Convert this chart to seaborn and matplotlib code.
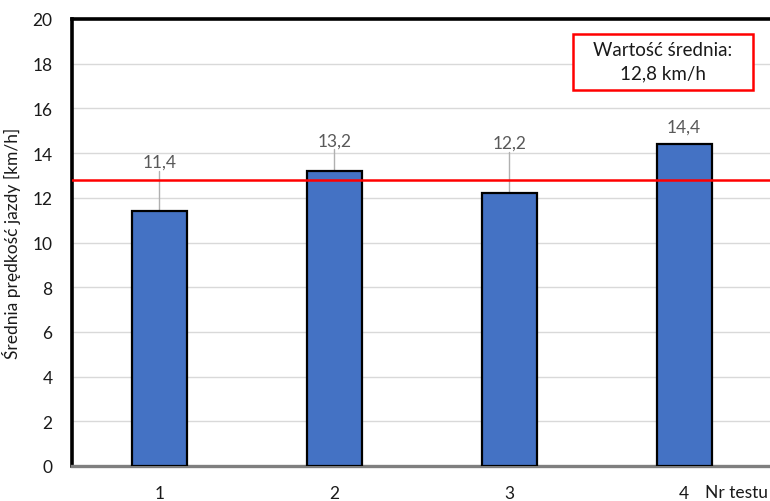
import matplotlib
matplotlib.use("Agg")
import matplotlib.pyplot as plt
import seaborn as sns
import pandas as pd
from matplotlib.patches import Rectangle

# Test numbers and average riding speed for each test
tests = ["1", "2", "3", "4"]
speeds = [11.4, 13.2, 12.2, 14.4]
mean_speed = 12.8
y_ticks = [0, 2, 4, 6, 8, 10, 12, 14, 16, 18, 20]

# Vertical position of each value label (data units) for the leader lines
label_y = [13.6, 14.55, 14.45, 15.2]

sns.set_theme(style="white")
plt.rcParams["font.family"] = ["Lato", "DejaVu Sans"]

df = pd.DataFrame({"test": tests, "speed": speeds})

fig = plt.figure(figsize=(7.7, 5.02), dpi=100)
ax = fig.add_axes([72 / 770, 1 - 467 / 502, 699.5 / 770, 447 / 502])

sns.barplot(data=df, x="test", y="speed", color="#4472C4", saturation=1,
            width=0.314, edgecolor="black", linewidth=1.6, ax=ax, zorder=3)

ax.set_xlim(-0.5, 3.5)
ax.set_ylim(0, 20)
ax.set_yticks(y_ticks)
ax.set_yticklabels([str(t) for t in y_ticks], fontsize=12.5, color="#1a1a1a")
ax.tick_params(axis="x", labelsize=12.5, colors="#1a1a1a", pad=14, length=0)
ax.tick_params(axis="y", pad=14, length=0)
ax.yaxis.grid(True, color="#d9d9d9", linewidth=1.0, zorder=0)
ax.set_axisbelow(True)

ax.set_xlabel("")
ax.set_ylabel("Średnia prędkość jazdy [km/h]", fontsize=12.5, color="#1a1a1a", labelpad=8)

for side in ["left", "top"]:
    ax.spines[side].set_visible(True)
    ax.spines[side].set_color("black")
    ax.spines[side].set_linewidth(2.6)
ax.spines["right"].set_visible(False)
ax.spines["bottom"].set_color("#7f7f7f")
ax.spines["bottom"].set_linewidth(2.4)

# Mean line
ax.axhline(mean_speed, color="#ff0000", linewidth=1.8, zorder=4)

# Value labels with thin leader lines
for i, (v, ly) in enumerate(zip(speeds, label_y)):
    txt = f"{v:.1f}".replace(".", ",")
    ax.text(i, ly, txt, ha="center", va="center", fontsize=12.5, color="#595959", zorder=6)
    if ly - v > 0.9:
        ax.plot([i, i], [v, ly - 0.38], color="#b0b0b0", linewidth=1.0, zorder=2)

# Axis title placed after the last category, level with the tick labels
fig.text(705 / 770, 1 - 493 / 502, "Nr testu", ha="left", va="center",
         fontsize=12.5, color="#1a1a1a")

# Mean value box
fig.patches.append(Rectangle((573 / 770, 1 - 91 / 502), 180 / 770, 56 / 502,
                             transform=fig.transFigure, fill=True, facecolor="white",
                             edgecolor="#ff0000", linewidth=1.8, zorder=10))
fig.text(663 / 770, 1 - 50 / 502, "Wartość średnia:", ha="center", va="center",
         fontsize=13.5, color="#1a1a1a", zorder=11)
fig.text(663 / 770, 1 - 74 / 502, "12,8 km/h", ha="center", va="center",
         fontsize=13.5, color="#1a1a1a", zorder=11)

fig.savefig("out.png", dpi=100)
